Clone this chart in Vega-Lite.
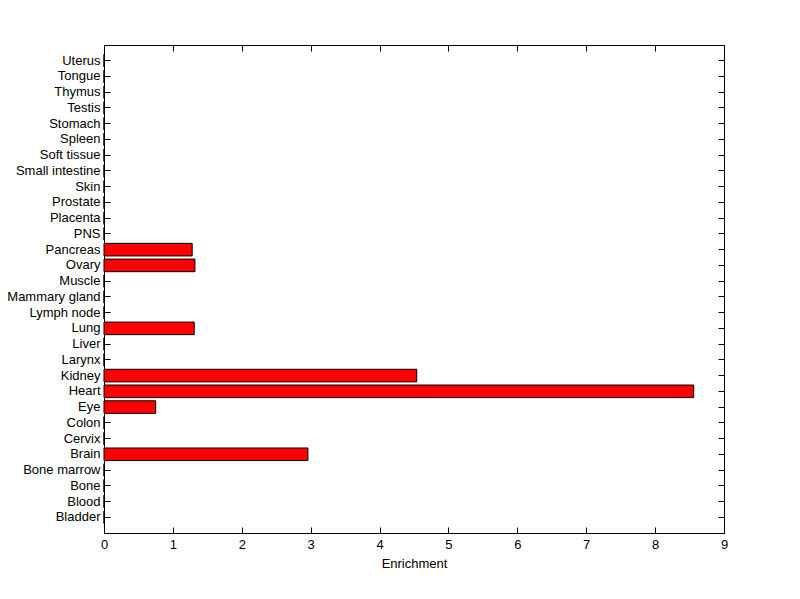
{
  "$schema": "https://vega.github.io/schema/vega-lite/v6.json",
  "autosize": "none",
  "width": 620,
  "height": 488,
  "padding": {"left": 104, "top": 45, "right": 76, "bottom": 66},
  "background": "white",
  "config": {
    "view": {"stroke": "black", "strokeWidth": 1},
    "axis": {
      "domainColor": "black", "tickColor": "black", "labelColor": "black", "titleColor": "black",
      "labelFont": "Liberation Sans", "titleFont": "Liberation Sans",
      "labelFontSize": 13, "titleFontSize": 13, "titleFontWeight": "normal",
      "grid": false, "labelFlush": false
    }
  },
  "data": {"values": [
    {"tissue": "Bladder", "v": 0},
    {"tissue": "Blood", "v": 0},
    {"tissue": "Bone", "v": 0},
    {"tissue": "Bone marrow", "v": 0},
    {"tissue": "Brain", "v": 2.96},
    {"tissue": "Cervix", "v": 0},
    {"tissue": "Colon", "v": 0},
    {"tissue": "Eye", "v": 0.75},
    {"tissue": "Heart", "v": 8.56},
    {"tissue": "Kidney", "v": 4.54},
    {"tissue": "Larynx", "v": 0},
    {"tissue": "Liver", "v": 0},
    {"tissue": "Lung", "v": 1.31},
    {"tissue": "Lymph node", "v": 0},
    {"tissue": "Mammary gland", "v": 0},
    {"tissue": "Muscle", "v": 0},
    {"tissue": "Ovary", "v": 1.32},
    {"tissue": "Pancreas", "v": 1.28},
    {"tissue": "PNS", "v": 0},
    {"tissue": "Placenta", "v": 0},
    {"tissue": "Prostate", "v": 0},
    {"tissue": "Skin", "v": 0},
    {"tissue": "Small intestine", "v": 0},
    {"tissue": "Soft tissue", "v": 0},
    {"tissue": "Spleen", "v": 0},
    {"tissue": "Stomach", "v": 0},
    {"tissue": "Testis", "v": 0},
    {"tissue": "Thymus", "v": 0},
    {"tissue": "Tongue", "v": 0},
    {"tissue": "Uterus", "v": 0}
  ]},
  "layer": [
    {
      "mark": {"type": "bar", "fill": "#ff0000", "stroke": "black", "strokeWidth": 1},
      "encoding": {
        "y": {"field": "tissue", "type": "nominal", "sort": null,
          "scale": {"paddingInner": 0.2, "paddingOuter": 0.6, "reverse": true},
          "axis": {"orient": "left", "title": null, "tickSize": -6, "labelPadding": 10, "domain": true}},
        "x": {"field": "v", "type": "quantitative",
          "scale": {"domain": [0, 9], "nice": false},
          "axis": {"orient": "bottom", "title": "Enrichment", "tickSize": -6, "labelPadding": 11, "titlePadding": 6, "values": [0,1,2,3,4,5,6,7,8,9], "format": "d"}}
      }
    },
    {
      "mark": {"type": "bar", "opacity": 0},
      "encoding": {
        "y": {"field": "tissue", "type": "nominal", "sort": null,
          "axis": {"orient": "right", "title": null, "tickSize": -6, "labels": false, "domain": false}},
        "x": {"field": "v", "type": "quantitative",
          "axis": {"orient": "top", "title": null, "tickSize": -6, "labels": false, "domain": false, "values": [0,1,2,3,4,5,6,7,8,9]}}
      }
    }
  ],
  "resolve": {"axis": {"x": "independent", "y": "independent"}}
}
